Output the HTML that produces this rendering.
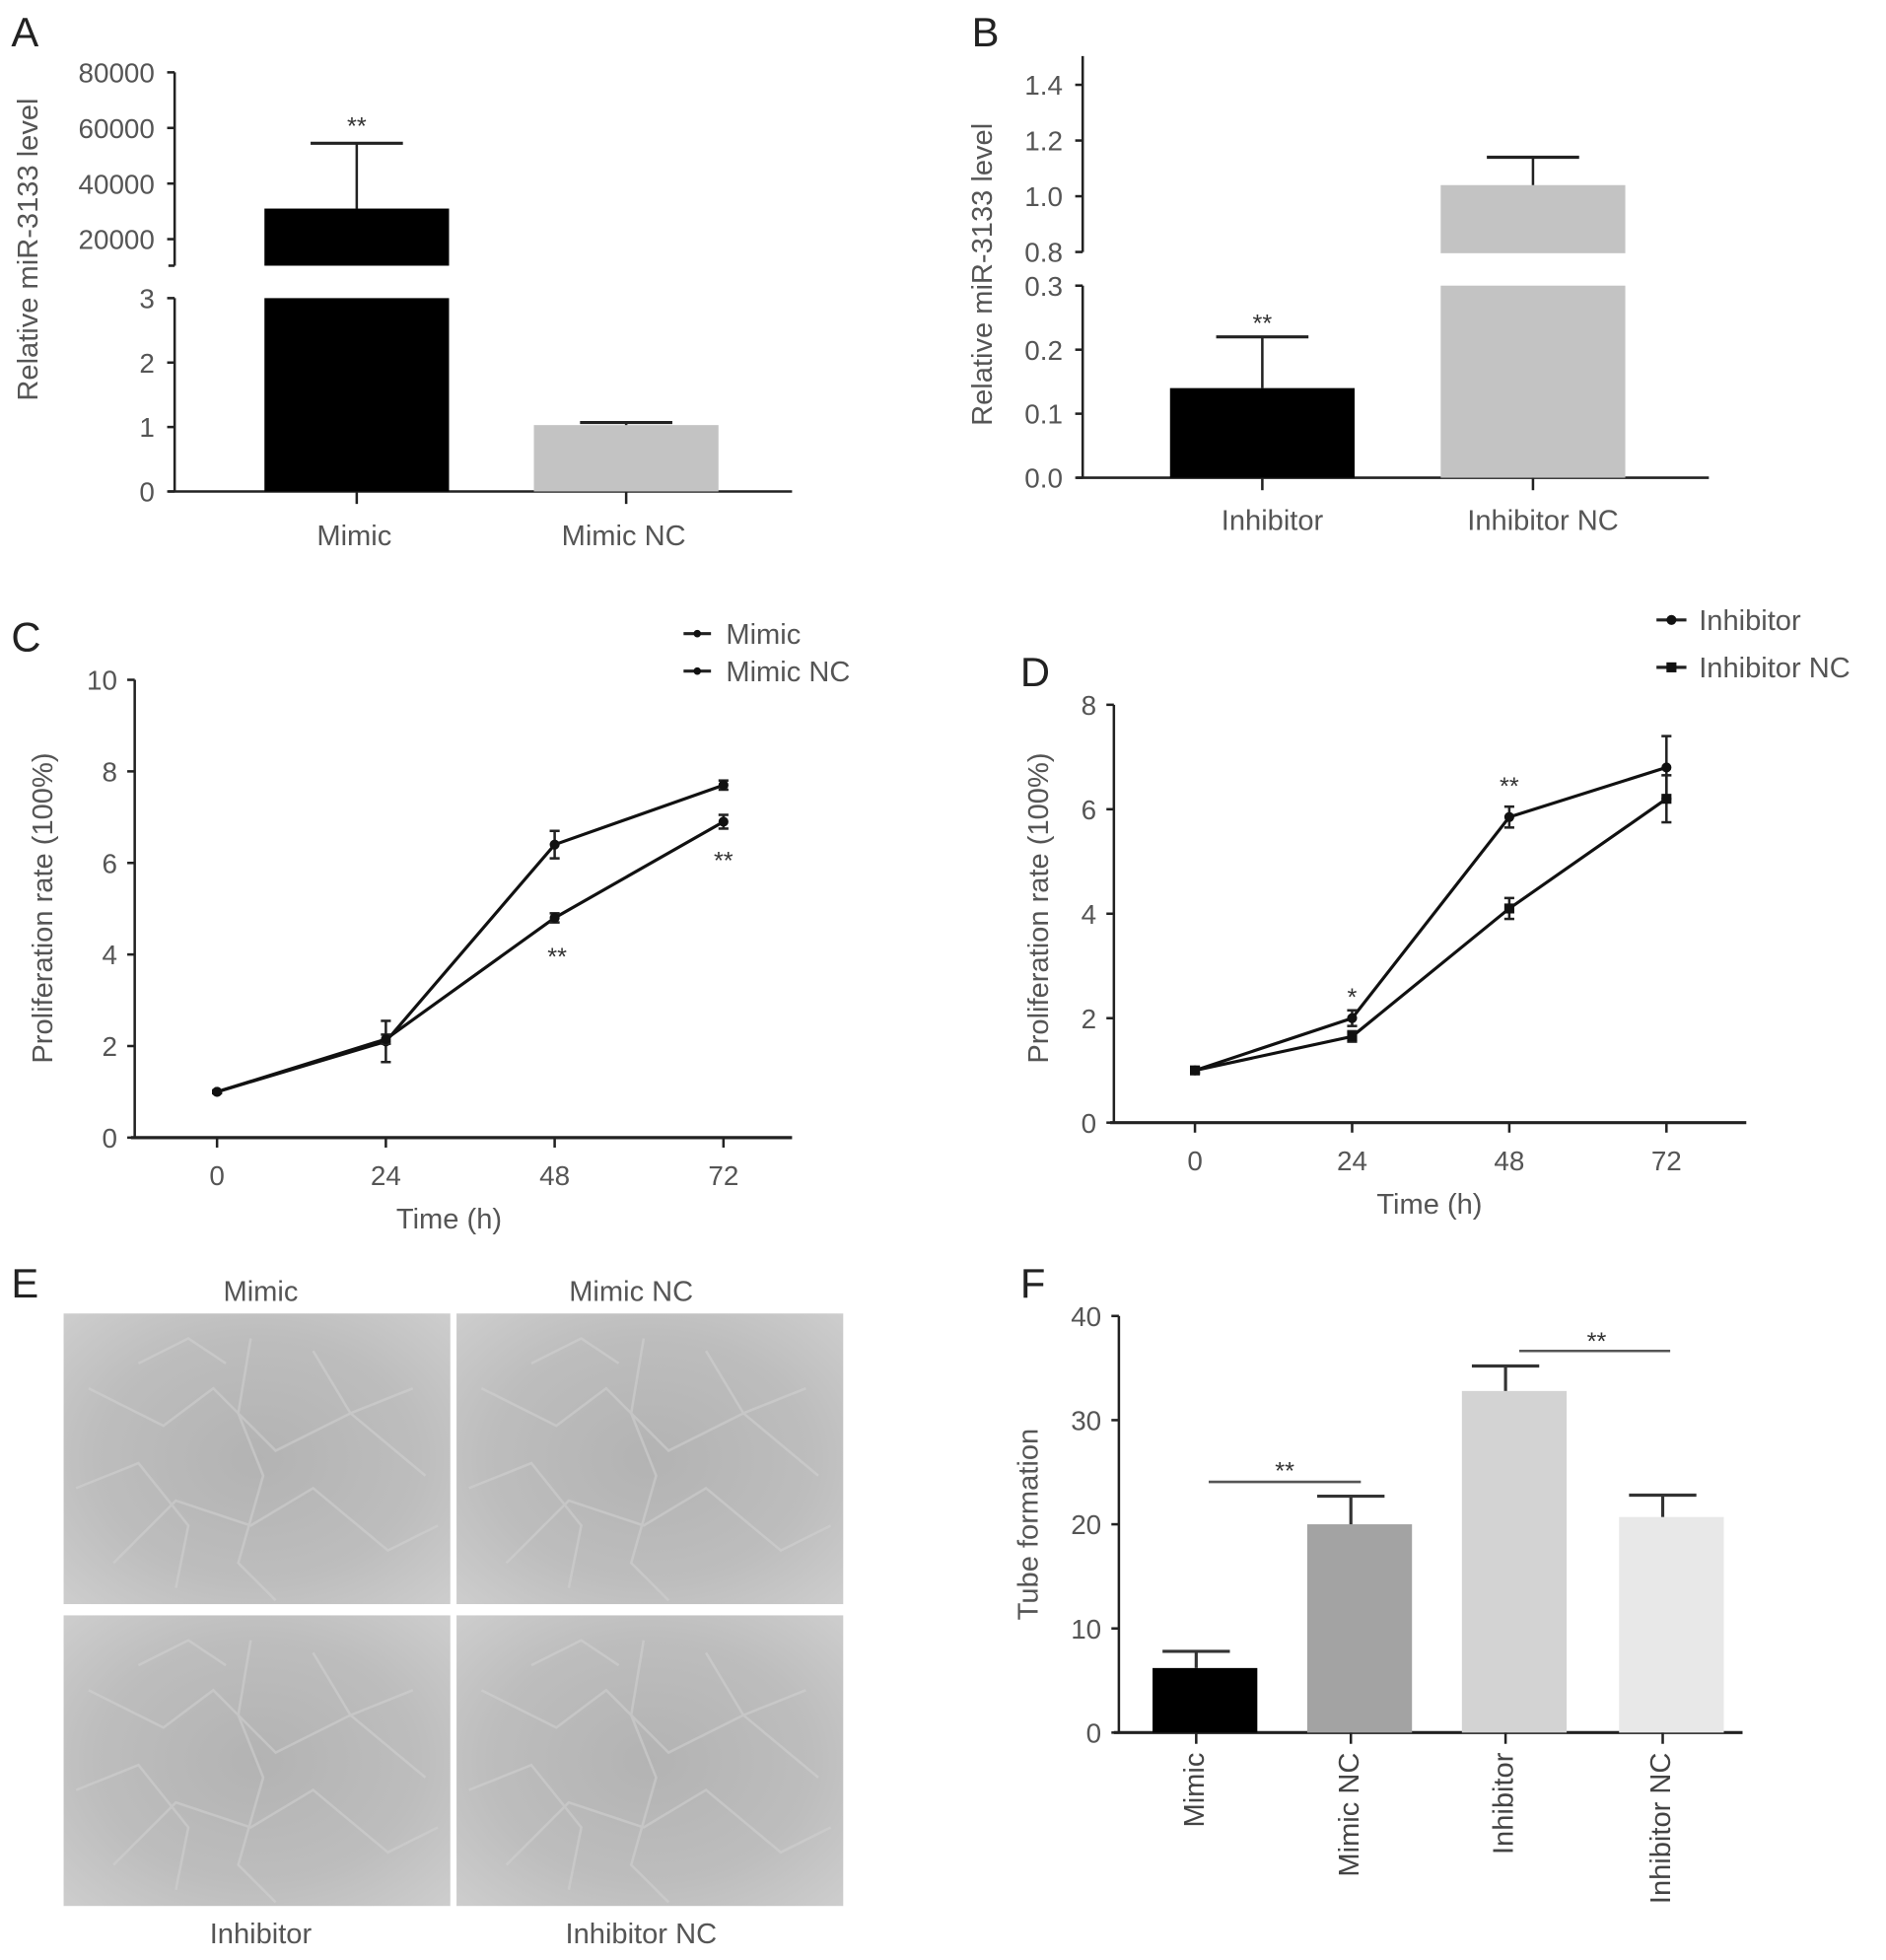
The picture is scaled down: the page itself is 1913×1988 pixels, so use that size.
<!DOCTYPE html>
<html><head><meta charset="utf-8"><style>
html,body{margin:0;padding:0;background:#fff;}
svg{display:block;}
text{font-family:"Liberation Sans",sans-serif;}
</style></head><body>
<svg id="fig" width="1913" height="1988" viewBox="0 0 1512 1571.3" xmlns="http://www.w3.org/2000/svg">
<defs>
<radialGradient id="cellbg" cx="50%" cy="50%" r="70%">
<stop offset="0" stop-color="#b3b3b3"/><stop offset="0.6" stop-color="#bdbdbd"/><stop offset="1" stop-color="#cdcdcd"/>
</radialGradient>
</defs>
<g id="root"></g>
</svg>
<script>
// ---- Panel A data
const aCategories = ["Mimic", "Mimic NC"];
const aValues = [31000, 1.03];
const aErrors = [54500, 1.07];
const aUpperTicks = [20000, 40000, 60000, 80000];
const aLowerTicks = [0, 1, 2, 3];
// ---- Panel B data
const bCategories = ["Inhibitor", "Inhibitor NC"];
const bValues = [0.14, 1.04];
const bErrors = [0.22, 1.14];
const bUpperTicks = [0.8, 1.0, 1.2, 1.4];
const bLowerTicks = [0.0, 0.1, 0.2, 0.3];
// ---- Panel C data
const cTimes = [0, 24, 48, 72];
const cMimic = [1, 2.1, 6.4, 7.7];
const cMimicErr = [0.03, 0.45, 0.3, 0.1];
const cMimicNC = [1, 2.15, 4.8, 6.9];
const cMimicNCErr = [0.03, 0.1, 0.1, 0.15];
const cYTicks = [0, 2, 4, 6, 8, 10];
// ---- Panel D data
const dTimes = [0, 24, 48, 72];
const dInhibitor = [1, 2.0, 5.85, 6.8];
const dInhibitorErr = [0.05, 0.15, 0.2, 0.6];
const dInhibitorNC = [1, 1.65, 4.1, 6.2];
const dInhibitorNCErr = [0.05, 0.1, 0.2, 0.45];
const dYTicks = [0, 2, 4, 6, 8];
// ---- Panel F data
const fCategories = ["Mimic", "Mimic NC", "Inhibitor", "Inhibitor NC"];
const fValues = [6.2, 20.0, 32.8, 20.7];
const fErrors = [7.8, 22.7, 35.2, 22.8];
const fYTicks = [0, 10, 20, 30, 40];

const NS = "http://www.w3.org/2000/svg";
const root = document.getElementById("root");
function el(tag, attrs, parent, txt) {
  const e = document.createElementNS(NS, tag);
  for (const k in attrs) e.setAttribute(k, attrs[k]);
  if (txt !== undefined) e.textContent = txt;
  (parent || root).appendChild(e);
  return e;
}
function grp(name) {
  const g = el("g", {});
  
  
  return g;
}
function ln(p, x1, y1, x2, y2, w, c) { return el("line", {x1, y1, x2, y2, stroke: c || "#222", "stroke-width": w || 2}, p); }
function tx(p, x, y, s, size, anchor, color, rot) {
  const a = {x, y, "font-size": size || 21, "text-anchor": anchor || "middle", fill: color || "#555"};
  if (rot) a.transform = "rotate(" + rot + " " + x + " " + y + ")";
  return el("text", a, p, s);
}
function label(p, s, x, y) {
  const t = tx(p, x, y, s, 33, "start", "#222");
  
  
}

// ===== Panel A
(function () {
  const g = grp("panel-a-bar-chart");
  label(g, "A", 9, 37);
  const ax = 140;
  const yU = v => 214 - (v - 10000) * (214 - 58) / 70000;
  const yL = v => 394 - v * (394 - 239) / 3;
  ln(g, ax, 58, ax, 213); ln(g, ax, 239, ax, 394);
  ln(g, 135, 213, ax, 213);
  aUpperTicks.forEach(t => { ln(g, 134, yU(t), ax, yU(t)); const e = tx(g, 124, yU(t) + 8, String(t), 22, "end");   });
  aLowerTicks.forEach(t => { ln(g, 134, yL(t), ax, yL(t)); const e = tx(g, 124, yL(t) + 8, String(t), 22, "end");   });
  ln(g, 135, 394, 635, 394);
  const xs = [286, 502], bw = 148, colors = ["#000", "#c3c3c3"];
  aCategories.forEach((c, i) => {
    const x0 = xs[i] - bw / 2;
    const v = aValues[i];
    let topY;
    if (v > 3) {
      topY = yU(v);
      const r1 = el("rect", {x: x0, y: topY, width: bw, height: 213 - topY, fill: colors[i]}, g);
      
      
      const r2 = el("rect", {x: x0, y: 239, width: bw, height: 155, fill: colors[i]}, g);
      
      
      const ey = yU(aErrors[i]);
      ln(g, xs[i], ey, xs[i], topY); ln(g, xs[i] - 37, ey, xs[i] + 37, ey, 2.5);
    } else {
      topY = yL(v);
      const r = el("rect", {x: x0, y: topY, width: bw, height: 394 - topY, fill: colors[i]}, g);
      
      
      const ey = yL(aErrors[i]);
      ln(g, xs[i], ey, xs[i], topY); ln(g, xs[i] - 37, ey, xs[i] + 37, ey, 2.5);
    }
    ln(g, xs[i], 394, xs[i], 404);
    const t = tx(g, xs[i] - 2, 437, c, 23, "middle");
    
    
  });
  tx(g, 286, 108, "**", 20, "middle", "#333");
  const yt = tx(g, 30, 200, "Relative miR-3133 level", 23, "middle", "#555", -90);
   
})();

// ===== Panel B
(function () {
  const g = grp("panel-b-bar-chart");
  label(g, "B", 779, 37);
  const ax = 868;
  const yU = v => 202 - (v - 0.8) * (202 - 68) / 0.6;
  const yL = v => 383 - v * (383 - 229) / 0.3;
  ln(g, ax, 45, ax, 202); ln(g, ax, 229, ax, 383);
  bUpperTicks.forEach(t => { ln(g, 862, yU(t), ax, yU(t)); const e = tx(g, 852, yU(t) + 8, t.toFixed(1), 22, "end");   });
  bLowerTicks.forEach(t => { ln(g, 862, yL(t), ax, yL(t)); const e = tx(g, 852, yL(t) + 8, t.toFixed(1), 22, "end");   });
  ln(g, 863, 383, 1370, 383);
  const xs = [1012, 1229], bw = 148, colors = ["#000", "#c3c3c3"];
  bCategories.forEach((c, i) => {
    const x0 = xs[i] - bw / 2, v = bValues[i];
    let topY, ey;
    if (v > 0.3) {
      topY = yU(v); ey = yU(bErrors[i]);
      const r1 = el("rect", {x: x0, y: topY, width: bw, height: 203 - topY, fill: colors[i]}, g);
      
      
      const r2 = el("rect", {x: x0, y: 229, width: bw, height: 154, fill: colors[i]}, g);
      
      
    } else {
      topY = yL(v); ey = yL(bErrors[i]);
      const r = el("rect", {x: x0, y: topY, width: bw, height: 383 - topY, fill: colors[i]}, g);
      
      
    }
    ln(g, xs[i], ey, xs[i], topY); ln(g, xs[i] - 37, ey, xs[i] + 37, ey, 2.5);
    ln(g, xs[i], 383, xs[i], 393);
    const t = tx(g, xs[i] + 8, 425, c, 23, "middle");
     
  });
  tx(g, 1012, 266, "**", 20, "middle", "#333");
  const yt = tx(g, 795, 220, "Relative miR-3133 level", 23, "middle", "#555", -90);
   
})();

// ===== line chart helper
function lineChart(g, o) {
  const xS = t => o.x0 + (t - o.times[0]) * (o.x72 - o.x0) / 72;
  const yS = v => o.yZero - v * (o.yZero - o.yTop) / o.yMax;
  ln(g, o.ax, o.yTop, o.ax, o.yZero);
  ln(g, o.ax - 3, o.yZero, o.axEnd, o.yZero, 2.5);
  o.yTicks.forEach(t => { ln(g, o.ax - 6, yS(t), o.ax, yS(t)); const e = tx(g, o.ax - 14, yS(t) + 8, String(t), 22, "end");   });
  o.times.forEach(t => { ln(g, xS(t), o.yZero, xS(t), o.yZero + 8); const e = tx(g, xS(t), o.yZero + 38, String(t), 22);   });
  o.series.forEach((s, si) => {
    const pts = s.vals.map((v, i) => xS(o.times[i]) + "," + yS(v)).join(" ");
    const pl = el("polyline", {points: pts, fill: "none", stroke: "#111", "stroke-width": 2.5}, g);
    
    
    s.vals.forEach((v, i) => {
      const x = xS(o.times[i]), y = yS(v), e = s.err[i];
      ln(g, x, yS(v + e), x, yS(v - e), 2);
      ln(g, x - 4, yS(v + e), x + 4, yS(v + e), 2);
      ln(g, x - 4, yS(v - e), x + 4, yS(v - e), 2);
      let m;
      if (s.marker === "square") m = el("rect", {x: x - 4, y: y - 4, width: 8, height: 8, fill: "#111"}, g);
      else m = el("circle", {cx: x, cy: y, r: 4, fill: "#111"}, g);
      
      
    });
  });
  return {xS, yS};
}

// ===== Panel C
(function () {
  const g = grp("panel-c-line-chart");
  label(g, "C", 9, 522);
  const s = lineChart(g, {ax: 108, axEnd: 635, yTop: 545, yZero: 912, yMax: 10, x0: 174, x72: 580, times: cTimes, yTicks: cYTicks,
    series: [{name: "mimic", vals: cMimic, err: cMimicErr, marker: "circle"}, {name: "mimic-nc", vals: cMimicNC, err: cMimicNCErr, marker: "circle"}]});
  tx(g, s.xS(48) + 2, s.yS(cMimicNC[2]) + 38, "**", 20, "middle", "#333");
  tx(g, s.xS(72), s.yS(cMimicNC[3]) + 38, "**", 20, "middle", "#333");
  const xt = tx(g, 360, 985, "Time (h)", 23);  
  const yt = tx(g, 42, 728, "Proliferation rate (100%)", 23, "middle", "#555", -90);  
  const lg = grp("legend-c"); g.appendChild(lg);
  ln(lg, 548, 508, 570, 508, 2.5); el("circle", {cx: 559, cy: 508, r: 3, fill: "#111"}, lg);
  tx(lg, 582, 516, "Mimic", 23, "start");
  ln(lg, 548, 538, 570, 538, 2.5); el("circle", {cx: 559, cy: 538, r: 3, fill: "#111"}, lg);
  tx(lg, 582, 546, "Mimic NC", 23, "start");
})();

// ===== Panel D
(function () {
  const g = grp("panel-d-line-chart");
  label(g, "D", 818, 550);
  const s = lineChart(g, {ax: 893, axEnd: 1400, yTop: 565, yZero: 900, yMax: 8, x0: 958, x72: 1336, times: dTimes, yTicks: dYTicks,
    series: [{name: "inhibitor", vals: dInhibitor, err: dInhibitorErr, marker: "circle"}, {name: "inhibitor-nc", vals: dInhibitorNC, err: dInhibitorNCErr, marker: "square"}]});
  tx(g, s.xS(24), s.yS(dInhibitor[1]) - 10, "*", 20, "middle", "#333");
  tx(g, s.xS(48), s.yS(dInhibitor[2]) - 18, "**", 20, "middle", "#333");
  const xt = tx(g, 1146, 973, "Time (h)", 23);  
  const yt = tx(g, 840, 728, "Proliferation rate (100%)", 23, "middle", "#555", -90);  
  const lg = grp("legend-d"); g.appendChild(lg);
  ln(lg, 1328, 497, 1352, 497, 2.5); el("circle", {cx: 1340, cy: 497, r: 4, fill: "#111"}, lg);
  tx(lg, 1362, 505, "Inhibitor", 23, "start");
  ln(lg, 1328, 535, 1352, 535, 2.5); el("rect", {x: 1336, y: 531, width: 8, height: 8, fill: "#111"}, lg);
  tx(lg, 1362, 543, "Inhibitor NC", 23, "start");
})();

// ===== Panel E (micrographs)
(function () {
  const g = grp("panel-e-micrographs");
  label(g, "E", 9, 1040);
  const cells = [
    {x: 51, y: 1053, name: "Mimic", lx: 209, ly: 1043},
    {x: 366, y: 1053, name: "Mimic NC", lx: 506, ly: 1043},
    {x: 51, y: 1295, name: "Inhibitor", lx: 209, ly: 1558},
    {x: 366, y: 1295, name: "Inhibitor NC", lx: 514, ly: 1558}
  ];
  const net = ["M20,60 L80,90 L120,60 L170,110 L230,80 L290,130",
    "M40,200 L90,150 L150,170 L200,140 L260,190 L300,170",
    "M10,140 L60,120 L100,170 L90,220",
    "M150,20 L140,80 L160,130 L140,200 L170,230",
    "M200,30 L230,80 L280,60",
    "M60,40 L100,20 L130,40"];
  cells.forEach(c => {
    const r = el("rect", {x: c.x, y: c.y, width: 310, height: 233, fill: "url(#cellbg)"}, g);
    
    
    const ng = el("g", {transform: "translate(" + c.x + "," + c.y + ")", fill: "none", stroke: "#d2d2d2", "stroke-width": 2, opacity: 0.55}, g);
    net.forEach(d => el("path", {d}, ng));
    const t = tx(g, c.lx, c.ly, c.name, 23);
    
    
  });
})();

// ===== Panel F
(function () {
  const g = grp("panel-f-bar-chart");
  label(g, "F", 818, 1040);
  const ax = 897, yTop = 1055, yZero = 1389;
  const yS = v => yZero - v * (yZero - yTop) / 40;
  ln(g, ax, yTop, ax, yZero);
  fYTicks.forEach(t => { ln(g, ax - 6, yS(t), ax, yS(t)); const e = tx(g, ax - 14, yS(t) + 8, String(t), 22, "end");   });
  ln(g, 893, yZero, 1397, yZero, 2.5);
  const xs = [966, 1090, 1214, 1340], bw = 84, colors = ["#000", "#a3a3a3", "#d3d3d3", "#e8e8e8"];
  fCategories.forEach((c, i) => {
    const top = yS(fValues[i]);
    const r = el("rect", {x: xs[i] - bw / 2, y: top, width: bw, height: yZero - top, fill: colors[i]}, g);
    
    
    const ey = yS(fErrors[i]);
    ln(g, xs[i] - 7, ey, xs[i] - 7, top, 2.5, "#333");
    ln(g, xs[i] - 34, ey, xs[i] + 20, ey, 2.5, "#333");
    ln(g, xs[i] - 7, yZero, xs[i] - 7, yZero + 9);
    const t = tx(g, xs[i] - 1, 1405, c, 23, "end", "#444", -90);
     
  });
  ln(g, 969, 1188, 1091, 1188, 2, "#555"); tx(g, 1030, 1186, "**", 20, "middle", "#333");
  ln(g, 1218, 1083, 1339, 1083, 2, "#555"); tx(g, 1280, 1082, "**", 20, "middle", "#333");
  const yt = tx(g, 832, 1222, "Tube formation", 23, "middle", "#555", -90);  
})();
</script>
</body></html>
